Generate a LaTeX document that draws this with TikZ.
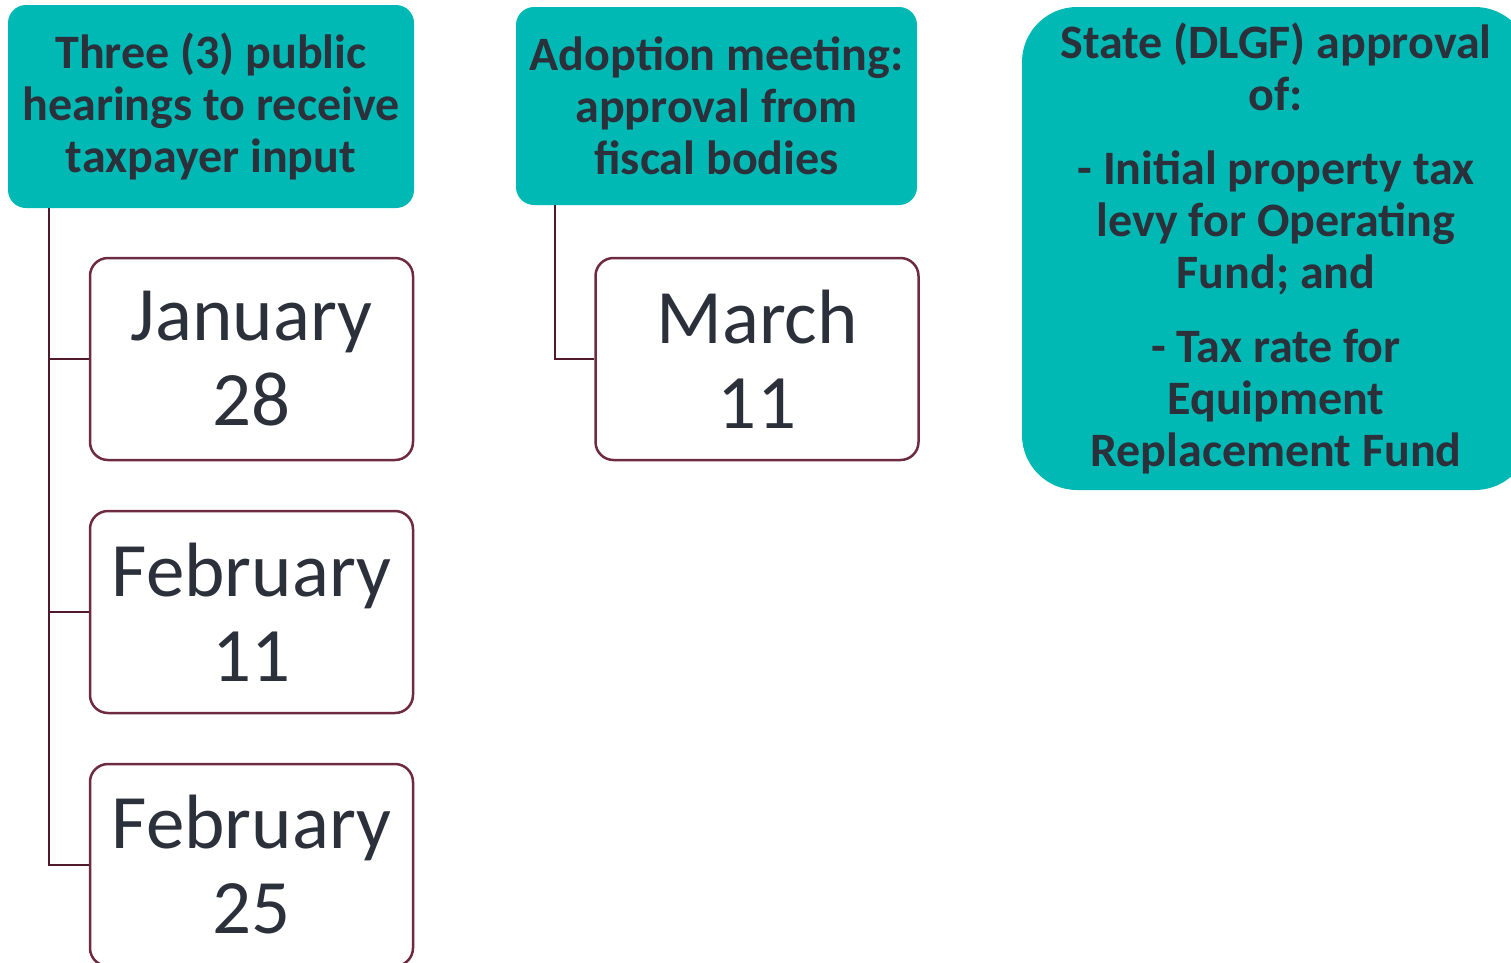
\documentclass[tikz,border=0pt]{standalone}
\usepackage{fontspec}
\setmainfont{Carlito}
\definecolor{hdrfill}{RGB}{0,185,180}
\definecolor{ink}{RGB}{43,48,58}
\definecolor{boxline}{RGB}{110,42,64}
\definecolor{linkcol}{RGB}{80,26,44}
\begin{document}
\begin{tikzpicture}[x=1pt,y=-1pt,
  hdr/.style={fill=hdrfill, rounded corners=18pt, text=ink, align=center, inner sep=0pt,
    font=\bfseries\fontsize{48}{52}\selectfont},
  datebox/.style={draw=boxline, line width=2.5pt, fill=white, rounded corners=18pt, text=ink,
    align=center, inner sep=0pt, minimum width=323pt, minimum height=202pt,
    font=\fontsize{77}{85}\selectfont},
  link/.style={draw=linkcol, line width=2.5pt}]
\useasboundingbox (0,0) rectangle (1511,962);
\clip (0,0) rectangle (1511,962);

% stage headers
\node[hdr, minimum width=406pt, minimum height=203pt] (h1) at (211,106.5)
  {Three (3) public\\hearings to receive\\taxpayer input};
\node[hdr, minimum width=401pt, minimum height=198pt] (h2) at (716.5,106)
  {Adoption meeting:\\approval from\\fiscal bodies};
\node[hdr, rounded corners=55pt, minimum width=508pt, minimum height=483pt] (h3) at (1276,248.5)
  {State (DLGF) approval\\of:\\[22pt]- Initial property tax\\levy for Operating\\Fund; and\\[22pt]- Tax rate for\\Equipment\\Replacement Fund};

% dates
\node[datebox] (d1) at (251.5,359) {January\\28};
\node[datebox] (d2) at (251.5,612) {February\\11};
\node[datebox] (d3) at (251.5,865) {February\\25};
\node[datebox] (m1) at (757,359) {March\\11};

% connectors
\draw[link] ([xshift=41pt]h1.south west) |- (d1.west);
\draw[link] ([xshift=41pt]h1.south west) |- (d2.west);
\draw[link] ([xshift=41pt]h1.south west) |- (d3.west);
\draw[link] ([xshift=39pt]h2.south west) |- (m1.west);
\end{tikzpicture}
\end{document}
